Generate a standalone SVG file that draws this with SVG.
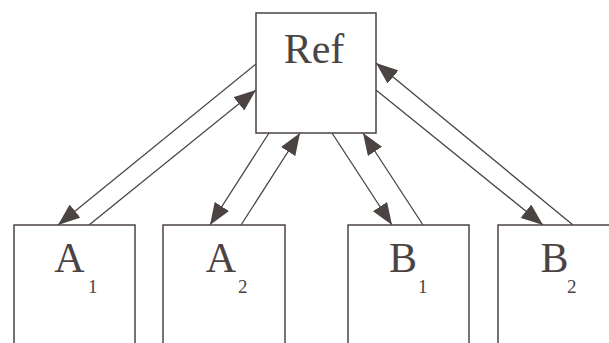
<svg xmlns="http://www.w3.org/2000/svg" width="609" height="343" viewBox="0 0 609 343">
<defs>
<style>
.box{fill:#fff;stroke:#4b4443;stroke-width:1.5}
.lbl{font-family:"Liberation Serif",serif;font-size:42px;fill:#4b4443;text-anchor:middle}
.sub{font-family:"Liberation Serif",serif;font-size:19px;fill:#4b4443}
.con{stroke:#4b4443;stroke-width:1.3;fill:none;marker-end:url(#ah)}
</style>
<marker id="ah" viewBox="0 0 22 17" refX="22" refY="8.5" markerWidth="22" markerHeight="17" markerUnits="userSpaceOnUse" orient="auto">
<path d="M0,0 L22,8.5 L0,17 z" fill="#4b4443"/>
</marker>
</defs>
<rect width="609" height="343" fill="#fff"/>
<g id="connectors">
<line class="con" x1="256" y1="64" x2="58" y2="225"/>
<line class="con" x1="89" y1="225" x2="256" y2="90"/>
<line class="con" x1="269" y1="133" x2="210" y2="225"/>
<line class="con" x1="241" y1="225" x2="300" y2="133"/>
<line class="con" x1="332" y1="133" x2="392" y2="225"/>
<line class="con" x1="423" y1="225" x2="363" y2="133"/>
<line class="con" x1="376" y1="90" x2="543" y2="225"/>
<line class="con" x1="573" y1="225" x2="376" y2="63"/>
</g>
<g id="ref">
<rect class="box" x="256" y="13" width="120" height="120"/>
<text class="lbl" x="314" y="63">Ref</text>
</g>
<g id="a1">
<rect class="box" x="14" y="225" width="121" height="130"/>
<text class="lbl" x="69.5" y="272">A</text>
<text class="sub" x="88" y="293">1</text>
</g>
<g id="a2">
<rect class="box" x="163" y="225" width="122" height="130"/>
<text class="lbl" x="221" y="272">A</text>
<text class="sub" x="238" y="293">2</text>
</g>
<g id="b1">
<rect class="box" x="348" y="225" width="121" height="130"/>
<text class="lbl" x="403" y="272">B</text>
<text class="sub" x="418" y="293">1</text>
</g>
<g id="b2">
<rect class="box" x="498" y="225" width="121" height="130"/>
<text class="lbl" x="554.5" y="272">B</text>
<text class="sub" x="567" y="293">2</text>
</g>
</svg>
